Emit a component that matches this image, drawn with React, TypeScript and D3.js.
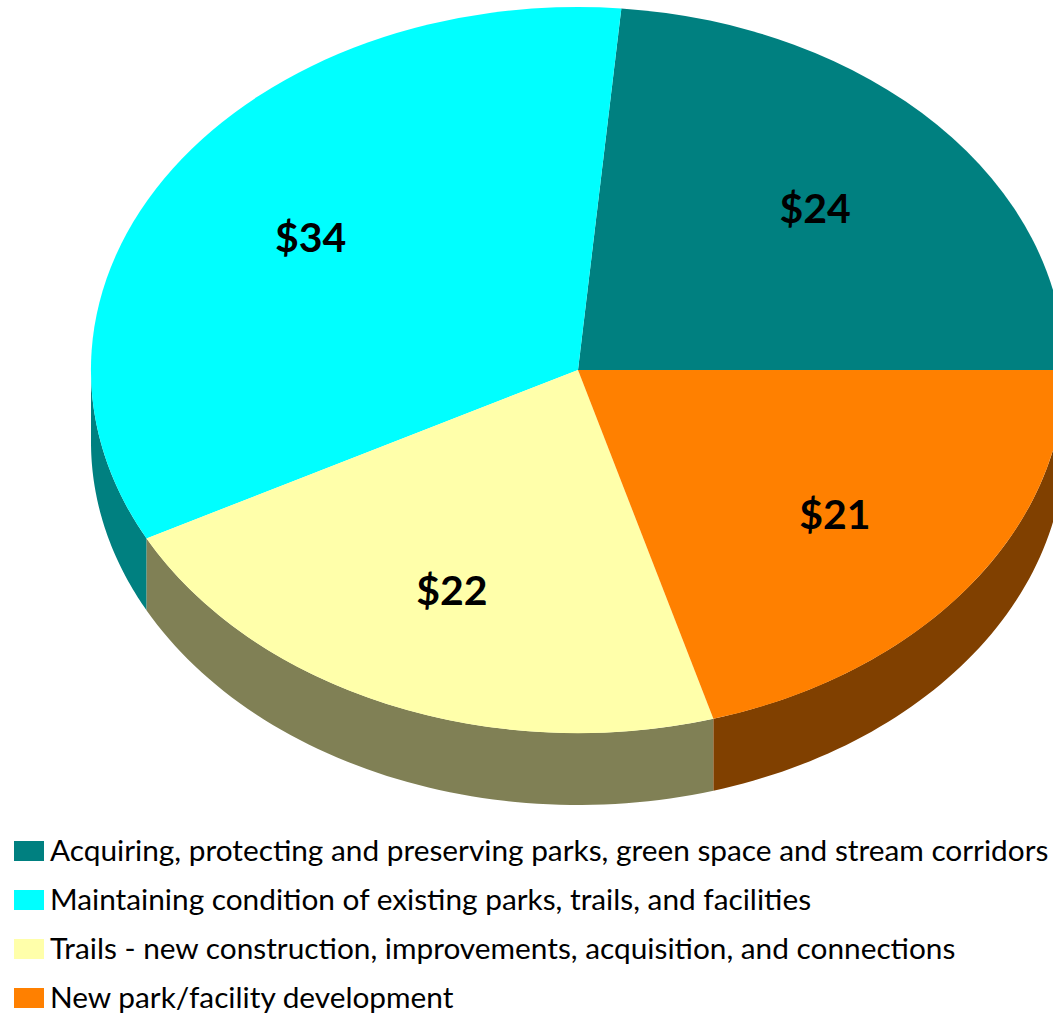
import React from 'react';
import * as d3 from 'd3';

const categories = [
  'Acquiring, protecting and preserving parks, green space and stream corridors',
  'Maintaining condition of existing parks, trails, and facilities',
  'Trails - new construction, improvements, acquisition, and connections',
  'New park/facility development',
];
// underlying amounts; labels show them rounded
const values = [23.8, 34.4, 22.0, 20.7];
const labels = ['$24', '$34', '$22', '$21'];
const topColors = ['#008080', '#00FFFF', '#FFFFAA', '#FF8000'];
const sideColors = ['#008080', '#008080', '#808055', '#804000'];

const W = 1053;
const H = 1016;
const cx = 578;
const cy = 370;
const rx = 487;
const ry = 363;
const depth = 72;
const TAU = Math.PI * 2;

const ellipsePt = (a: number, dy = 0): [number, number] => [
  cx + rx * Math.sin(a),
  cy - ry * Math.cos(a) + dy,
];

const App: React.FC = () => {
  // slices go counter-clockwise from 3 o'clock, like the Excel original
  const pie = d3
    .pie<number>()
    .sort(null)
    .startAngle(Math.PI / 2)
    .endAngle(Math.PI / 2 - TAU);
  const arcs = pie(values);

  const arcGen = d3.arc<d3.PieArcDatum<number>>().innerRadius(0).outerRadius(1);
  const line = d3.line();

  // visible outer wall: the part of each slice lying in the front half
  const walls = arcs.map((d, i) => {
    let a0 = Math.min(d.startAngle, d.endAngle);
    let a1 = Math.max(d.startAngle, d.endAngle);
    while (a0 < 0) {
      a0 += TAU;
      a1 += TAU;
    }
    const lo = Math.max(a0, Math.PI / 2);
    const hi = Math.min(a1, (3 * Math.PI) / 2);
    if (hi <= lo) return null;
    const steps = d3.range(0, 61).map((k) => lo + ((hi - lo) * k) / 60);
    const pts = [
      ...steps.map((a) => ellipsePt(a)),
      ...steps.slice().reverse().map((a) => ellipsePt(a, depth)),
    ];
    return { i, path: line(pts) + 'Z' };
  }).filter(Boolean) as { i: number; path: string }[];

  return (
    <svg
      width={W}
      height={H}
      style={{ position: 'absolute', left: 0, top: 0, display: 'block', background: '#fff' }}
      fontFamily="Lato, 'Open Sans', sans-serif"
    >
      {walls.map((w) => (
        <path key={'w' + w.i} d={w.path} fill={sideColors[w.i]} />
      ))}
      <g transform={`translate(${cx},${cy}) scale(${rx},${ry})`}>
        {arcs.map((d, i) => (
          <path key={i} d={arcGen(d) || ''} fill={topColors[i]} />
        ))}
      </g>
      {arcs.map((d, i) => {
        const mid = (d.startAngle + d.endAngle) / 2;
        const x = cx + rx * 0.66 * Math.sin(mid);
        const y = cy - ry * 0.66 * Math.cos(mid);
        return (
          <text
            key={'l' + i}
            x={x}
            y={y}
            dy="0.36em"
            textAnchor="middle"
            fontSize={41}
            fontWeight="bold"
            fill="#000"
          >
            {labels[i]}
          </text>
        );
      })}
      <g>
        {categories.map((c, i) => (
          <g key={'g' + i} transform={`translate(14,${841 + i * 49})`}>
            <rect width={30} height={20} fill={topColors[i]} />
            <text x={36} y={20} fontSize={29.8} fill="#000">
              {c}
            </text>
          </g>
        ))}
      </g>
    </svg>
  );
};

export default App;
